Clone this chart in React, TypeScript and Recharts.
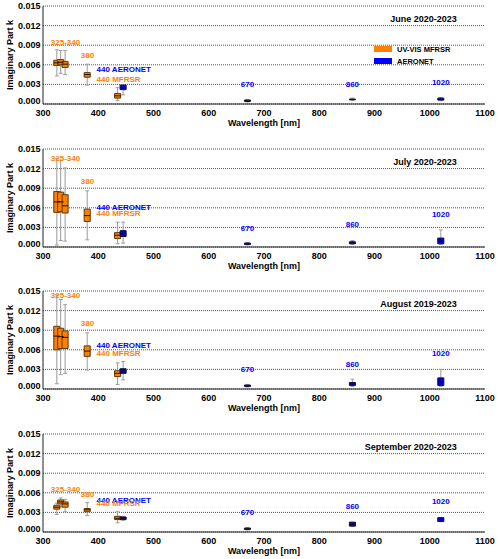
import React from 'react';
import {
  ComposedChart,
  XAxis,
  YAxis,
  CartesianGrid,
  ReferenceArea,
  ReferenceLine,
  ReferenceDot,
  Scatter,
  Legend,
  Label,
} from 'recharts';

// Retrieval wavelengths [nm]; first five are UV-VIS MFRSR, the rest AERONET
const wavelengths = [325, 332, 340, 380, 435, 445, 670, 860, 1020];
const instrument = ['MFRSR', 'MFRSR', 'MFRSR', 'MFRSR', 'MFRSR', 'AERONET', 'AERONET', 'AERONET', 'AERONET'];

// Box statistics of the imaginary part k (whisker low, Q1, median, Q3, whisker high)
const juneMin = [0.0043, 0.0047, 0.0045, 0.0029, 0.0005, 0.0014, 0.0003, 0.0005, 0.0005];
const juneQ1 = [0.0059, 0.006, 0.0056, 0.0041, 0.0009, 0.0022, 0.0004, 0.00065, 0.0006];
const juneMed = [0.0063, 0.0064, 0.0061, 0.0045, 0.00125, 0.0025, 0.0005, 0.0007, 0.0007];
const juneQ3 = [0.0067, 0.0068, 0.0065, 0.0048, 0.0016, 0.0029, 0.0006, 0.00075, 0.0009];
const juneMax = [0.0083, 0.0082, 0.0082, 0.0061, 0.0025, 0.0029, 0.0007, 0.0009, 0.001];

const julyMin = [0.0003, 0.001, 0.0009, 0.0011, 0.0005, 0.0006, 0.0003, 0.0004, 0.0004];
const julyQ1 = [0.0053, 0.0054, 0.0052, 0.0039, 0.0013, 0.0016, 0.0004, 0.0005, 0.0005];
const julyMed = [0.0069, 0.0069, 0.0063, 0.0048, 0.0018, 0.002, 0.0005, 0.0006, 0.0009];
const julyQ3 = [0.0085, 0.0084, 0.008, 0.0058, 0.0022, 0.0025, 0.0006, 0.0008, 0.00137];
const julyMax = [0.0135, 0.0133, 0.0121, 0.0086, 0.0038, 0.0038, 0.0007, 0.001, 0.0026];

const augMin = [0.0008, 0.0022, 0.0024, 0.0029, 0.0007, 0.0014, 0.0003, 0.0004, 0.0004];
const augQ1 = [0.006, 0.0062, 0.0062, 0.005, 0.0019, 0.0024, 0.0004, 0.00055, 0.00055];
const augMed = [0.0081, 0.008, 0.0079, 0.0058, 0.0024, 0.0029, 0.0005, 0.0008, 0.0011];
const augQ3 = [0.0096, 0.0093, 0.0089, 0.0066, 0.0028, 0.0031, 0.0006, 0.001, 0.0017];
const augMax = [0.0144, 0.0137, 0.0129, 0.0086, 0.004, 0.0042, 0.0007, 0.0015, 0.003];

const sepMin = [0.0027, 0.0038, 0.0031, 0.0025, 0.0014, 0.0018, 0.0003, 0.0009, 0.0016];
const sepQ1 = [0.0035, 0.0043, 0.0038, 0.0031, 0.0019, 0.0019, 0.0004, 0.0009, 0.0016];
const sepMed = [0.0038, 0.0046, 0.0043, 0.0034, 0.0021, 0.0021, 0.0005, 0.0012, 0.0019];
const sepQ3 = [0.0041, 0.0049, 0.0046, 0.0036, 0.0024, 0.0023, 0.0006, 0.0015, 0.0022];
const sepMax = [0.0044, 0.0052, 0.005, 0.0045, 0.0031, 0.0024, 0.0007, 0.0015, 0.0022];

const periodTitles = ['June 2020-2023', 'July 2020-2023', 'August 2019-2023', 'September 2020-2023'];

// Height (in k units) of the wavelength annotations in each panel
const labelY325 = [0.0094, 0.0135, 0.0143, 0.0065];
const labelY380 = [0.0075, 0.01, 0.0101, 0.0058];
const labelYAero440 = [0.0053, 0.0061, 0.0066, 0.0048];
const labelYMfrsr440 = [0.0038, 0.0051, 0.0055, 0.0044];
const labelY670 = [0.003, 0.0029, 0.003, 0.003];
const labelY860 = [0.003, 0.0035, 0.0038, 0.0039];
const labelY1020 = [0.00325, 0.005, 0.0054, 0.0046];

const xMajor = [300, 400, 500, 600, 700, 800, 900, 1000, 1100];
const xMinor = [350, 450, 550, 650, 750, 850, 950, 1050];
const yMajor = [0, 0.003, 0.006, 0.009, 0.012, 0.015];
const yMinor = [0.0015, 0.0045, 0.0075, 0.0105, 0.0135];

const FONT = '"Liberation Sans", Arial, Helvetica, sans-serif';
const FRAME = '#222';
const ORANGE = '#FF8000';
const BLUE = '#0000FF';
const BOX_HALF = 5.5; // nm
const CAP_HALF = 3.5; // nm

const monthStats = [
  { min: juneMin, q1: juneQ1, med: juneMed, q3: juneQ3, max: juneMax },
  { min: julyMin, q1: julyQ1, med: julyMed, q3: julyQ3, max: julyMax },
  { min: augMin, q1: augQ1, med: augMed, q3: augQ3, max: augMax },
  { min: sepMin, q1: sepQ1, med: sepMed, q3: sepQ3, max: sepMax },
];

type Row = { wl: number; min: number; q1: number; med: number; q3: number; max: number; inst: string };

function YTick(props: any) {
  const { x, y, payload } = props;
  const v = payload.value as number;
  const lift = v === 0 ? -3.5 : 0;
  return (
    <text
      x={x}
      y={y + lift}
      textAnchor="end"
      dominantBaseline="central"
      fontSize={9}
      fontWeight="bold"
      fontFamily={FONT}
      fill="#000"
    >
      {v.toFixed(3)}
    </text>
  );
}

function textShape(text: string, color: string, size: number, anchor: 'start' | 'middle' | 'end') {
  return (p: any) => (
    <text
      x={p.cx}
      y={p.cy}
      textAnchor={anchor}
      dominantBaseline="central"
      fontSize={size}
      fontWeight="bold"
      fontFamily={FONT}
      fill={color}
    >
      {text}
    </text>
  );
}

const medianShape = (p: any) => (
  <line x1={p.cx - 3} x2={p.cx + 3} y1={p.cy} y2={p.cy} stroke="#1a1000" strokeWidth={1} />
);

function LegendBox() {
  const row = (color: string, text: string) => (
    <div style={{ display: 'flex', alignItems: 'center', height: 12 }}>
      <span style={{ display: 'inline-block', width: 17.5, height: 6, background: color }} />
      <span style={{ marginLeft: 5.5, fontSize: 7.5, fontWeight: 'bold', fontFamily: FONT, color: '#000' }}>{text}</span>
    </div>
  );
  return (
    <div>
      {row(ORANGE, 'UV-VIS MFRSR')}
      {row(BLUE, 'AERONET')}
    </div>
  );
}

function Panel({ index }: { index: number }) {
  const s = monthStats[index];
  const rows: Row[] = wavelengths.map((wl, i) => ({
    wl,
    min: s.min[i],
    q1: s.q1[i],
    med: s.med[i],
    q3: s.q3[i],
    max: s.max[i],
    inst: instrument[i],
  }));

  const tickFont = { fontSize: 9, fontWeight: 'bold', fill: '#000', fontFamily: FONT } as any;

  return (
    <ComposedChart width={500} height={142} data={rows} margin={{ top: 6, right: 15, bottom: 0, left: 0 }}>
      <CartesianGrid vertical={false} stroke="#555" strokeDasharray="1 1" />

      <XAxis
        dataKey="wl"
        type="number"
        domain={[300, 1100]}
        allowDataOverflow
        ticks={xMajor}
        interval={0}
        tickLine={false}
        tickSize={0}
        tickMargin={5.5}
        height={38}
        axisLine={{ stroke: FRAME }}
        tick={tickFont}
      >
        <Label value="Wavelength [nm]" position="center" fontSize={9} fontWeight="bold" fontFamily={FONT} fill="#000" />
      </XAxis>
      <XAxis xAxisId="bt" type="number" domain={[300, 1100]} allowDataOverflow orientation="bottom" mirror height={0}
        ticks={xMajor} interval={0} tick={false} tickSize={5} axisLine={false} tickLine={{ stroke: FRAME }} />
      <XAxis xAxisId="bm" type="number" domain={[300, 1100]} allowDataOverflow orientation="bottom" mirror height={0}
        ticks={xMinor} interval={0} tick={false} tickSize={2.5} axisLine={false} tickLine={{ stroke: FRAME }} />
      <XAxis xAxisId="t" type="number" domain={[300, 1100]} allowDataOverflow orientation="top" mirror height={0}
        ticks={xMajor} interval={0} tick={false} tickSize={5} axisLine={{ stroke: FRAME }} tickLine={{ stroke: FRAME }} />
      <XAxis xAxisId="tm" type="number" domain={[300, 1100]} allowDataOverflow orientation="top" mirror height={0}
        ticks={xMinor} interval={0} tick={false} tickSize={2.5} axisLine={false} tickLine={{ stroke: FRAME }} />

      <YAxis
        dataKey="med"
        type="number"
        domain={[0, 0.015]}
        allowDataOverflow
        ticks={yMajor}
        interval={0}
        width={43}
        tickLine={false}
        tickSize={0}
        tickMargin={2.5}
        axisLine={{ stroke: FRAME }}
        tick={<YTick />}
      >
        <Label value="Imaginary Part k" angle={-90} position="center" dx={-11.5} fontSize={9} fontWeight="bold" fontFamily={FONT} fill="#000" />
      </YAxis>
      <YAxis yAxisId="lt" type="number" domain={[0, 0.015]} allowDataOverflow orientation="left" mirror width={0}
        ticks={yMajor} interval={0} tick={false} tickSize={5} axisLine={false} tickLine={{ stroke: FRAME }} />
      <YAxis yAxisId="lm" type="number" domain={[0, 0.015]} allowDataOverflow orientation="left" mirror width={0}
        ticks={yMinor} interval={0} tick={false} tickSize={3} axisLine={false} tickLine={{ stroke: FRAME }} />
      <YAxis yAxisId="r" type="number" domain={[0, 0.015]} allowDataOverflow orientation="right" mirror width={0}
        ticks={yMajor} interval={0} tick={false} tickSize={5} axisLine={{ stroke: FRAME }} tickLine={{ stroke: FRAME }} />
      <YAxis yAxisId="rm" type="number" domain={[0, 0.015]} allowDataOverflow orientation="right" mirror width={0}
        ticks={yMinor} interval={0} tick={false} tickSize={3} axisLine={false} tickLine={{ stroke: FRAME }} />

      {/* whiskers and caps */}
      {rows.map((r) => (
        <ReferenceLine key={`w${r.wl}`} zIndex={150} segment={[{ x: r.wl, y: r.min }, { x: r.wl, y: r.max }]}
          stroke="#9a9a9a" strokeWidth={1} />
      ))}
      {rows.map((r) => (
        <ReferenceLine key={`ch${r.wl}`} zIndex={150}
          segment={[{ x: r.wl - CAP_HALF, y: r.max }, { x: r.wl + CAP_HALF, y: r.max }]} stroke="#9a9a9a" strokeWidth={1} />
      ))}
      {rows.map((r) => (
        <ReferenceLine key={`cl${r.wl}`} zIndex={150}
          segment={[{ x: r.wl - CAP_HALF, y: r.min }, { x: r.wl + CAP_HALF, y: r.min }]} stroke="#9a9a9a" strokeWidth={1} />
      ))}

      {/* interquartile boxes */}
      {rows.map((r) => (
        <ReferenceArea
          key={`b${r.wl}`}
          zIndex={160}
          x1={r.wl - BOX_HALF}
          x2={r.wl + BOX_HALF}
          y1={r.q1}
          y2={r.q3}
          fill={r.inst === 'MFRSR' ? ORANGE : '#0000E0'}
          fillOpacity={1}
          stroke={r.inst === 'MFRSR' ? '#5c3a12' : '#10104a'}
          strokeWidth={1}
        />
      ))}

      {/* medians */}
      <Scatter dataKey="med" isAnimationActive={false} shape={medianShape} />

      {/* annotations */}
      <ReferenceDot x={1049} y={0.013} zIndex={2000} shape={textShape(periodTitles[index], '#000', 9, 'end')} />
      <ReferenceDot x={340.7} y={labelY325[index]} zIndex={2000} shape={textShape('325-340', ORANGE, 8, 'middle')} />
      <ReferenceDot x={380.4} y={labelY380[index]} zIndex={2000} shape={textShape('380', ORANGE, 8, 'middle')} />
      <ReferenceDot x={397} y={labelYAero440[index]} zIndex={2000} shape={textShape('440 AERONET', BLUE, 8, 'start')} />
      <ReferenceDot x={397} y={labelYMfrsr440[index]} zIndex={2000} shape={textShape('440 MFRSR', ORANGE, 8, 'start')} />
      <ReferenceDot x={670} y={labelY670[index]} zIndex={2000} shape={textShape('670', BLUE, 8, 'middle')} />
      <ReferenceDot x={860} y={labelY860[index]} zIndex={2000} shape={textShape('860', BLUE, 8, 'middle')} />
      <ReferenceDot x={1020} y={labelY1020[index]} zIndex={2000} shape={textShape('1020', BLUE, 8, 'middle')} />

      {index === 0 && (
        <Legend
          layout="vertical"
          align="center"
          verticalAlign="middle"
          content={() => <LegendBox />}
          wrapperStyle={{ position: 'absolute', left: 374, top: 43, width: 110, height: 24 }}
        />
      )}
    </ComposedChart>
  );
}

export default function App() {
  return (
    <div style={{ position: 'absolute', left: 0, top: 0, width: 500, height: 559, overflow: 'hidden', background: '#fff' }}>
      {[0, 1, 2, 3].map((i) => (
        <div key={i} style={{ position: 'absolute', left: 0, top: 0.3 + i * 142.47, width: 500, height: 142 }}>
          <Panel index={i} />
        </div>
      ))}
    </div>
  );
}
